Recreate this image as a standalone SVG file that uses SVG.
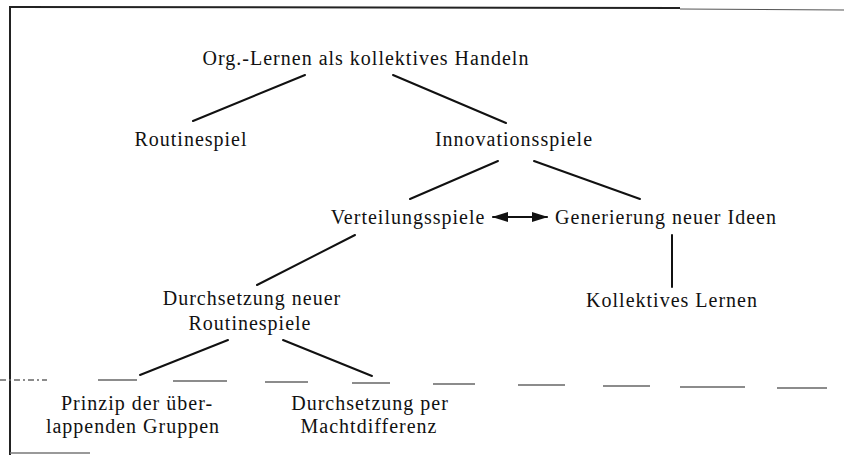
<svg xmlns="http://www.w3.org/2000/svg" width="844" height="455" viewBox="0 0 844 455">
<style>
text{font-family:"Liberation Serif","Times New Roman",serif;font-size:20px;fill:#111;text-anchor:middle;letter-spacing:1px}
.c line{stroke:#111;stroke-width:2;stroke-linecap:round}
.frame{stroke:#222;stroke-width:2;fill:none}
.dash line{stroke:#666;stroke-width:1.3}
</style>
<defs>
<marker id="ah" viewBox="0 0 16 10" refX="15" refY="5" markerWidth="16" markerHeight="10" markerUnits="userSpaceOnUse" orient="auto-start-reverse">
<path d="M0,0 L16,5 L0,10 Z" fill="#111"/>
</marker>
</defs>
<rect width="844" height="455" fill="#fff"/>
<g id="frame">
<line class="frame" x1="10" y1="7" x2="680" y2="8"/>
<line x1="680" y1="9" x2="844" y2="10" stroke="#555" stroke-width="1.2"/>
<line class="frame" x1="10" y1="6" x2="10" y2="455"/>
<line x1="10" y1="453" x2="90" y2="453" stroke="#777" stroke-width="1.3"/>
<g class="dash">
<line x1="0" y1="380" x2="47" y2="380" stroke-dasharray="6 3 2 3"/>
<line x1="98" y1="380" x2="137" y2="380"/>
<line x1="173" y1="381" x2="227" y2="381"/>
<line x1="265" y1="382" x2="308" y2="382"/>
<line x1="352" y1="383" x2="390" y2="383"/>
<line x1="433" y1="384" x2="475" y2="384"/>
<line x1="518" y1="385" x2="565" y2="385"/>
<line x1="603" y1="386" x2="650" y2="386"/>
<line x1="680" y1="387" x2="745" y2="387"/>
<line x1="777" y1="388" x2="827" y2="388"/>
</g>
</g>
<g id="connectors" class="c">
<line x1="305" y1="75" x2="193" y2="121"/>
<line x1="393" y1="75" x2="506" y2="123"/>
<line x1="498" y1="161" x2="410" y2="199"/>
<line x1="534" y1="161" x2="640" y2="199"/>
<line x1="355" y1="235" x2="257" y2="285"/>
<line x1="672" y1="235" x2="672" y2="287"/>
<line x1="228" y1="340" x2="140" y2="375"/>
<line x1="283" y1="340" x2="372" y2="376"/>
<line x1="493" y1="217" x2="547" y2="217" stroke-width="1.6" marker-start="url(#ah)" marker-end="url(#ah)"/>
</g>
<g id="n-org"><text x="366" y="65">Org.-Lernen als kollektives Handeln</text></g>
<g id="n-routine"><text x="191" y="146">Routinespiel</text></g>
<g id="n-innov"><text x="514" y="146">Innovationsspiele</text></g>
<g id="n-vert"><text x="408" y="224">Verteilungsspiele</text></g>
<g id="n-gen"><text x="666" y="224">Generierung neuer Ideen</text></g>
<g id="n-durch"><text x="252" y="305">Durchsetzung neuer</text><text x="250" y="330">Routinespiele</text></g>
<g id="n-koll"><text x="672" y="307">Kollektives Lernen</text></g>
<g id="n-prinzip"><text x="137" y="410">Prinzip der über-</text><text x="133" y="433">lappenden Gruppen</text></g>
<g id="n-macht"><text x="370" y="410">Durchsetzung per</text><text x="369" y="433">Machtdifferenz</text></g>
</svg>
